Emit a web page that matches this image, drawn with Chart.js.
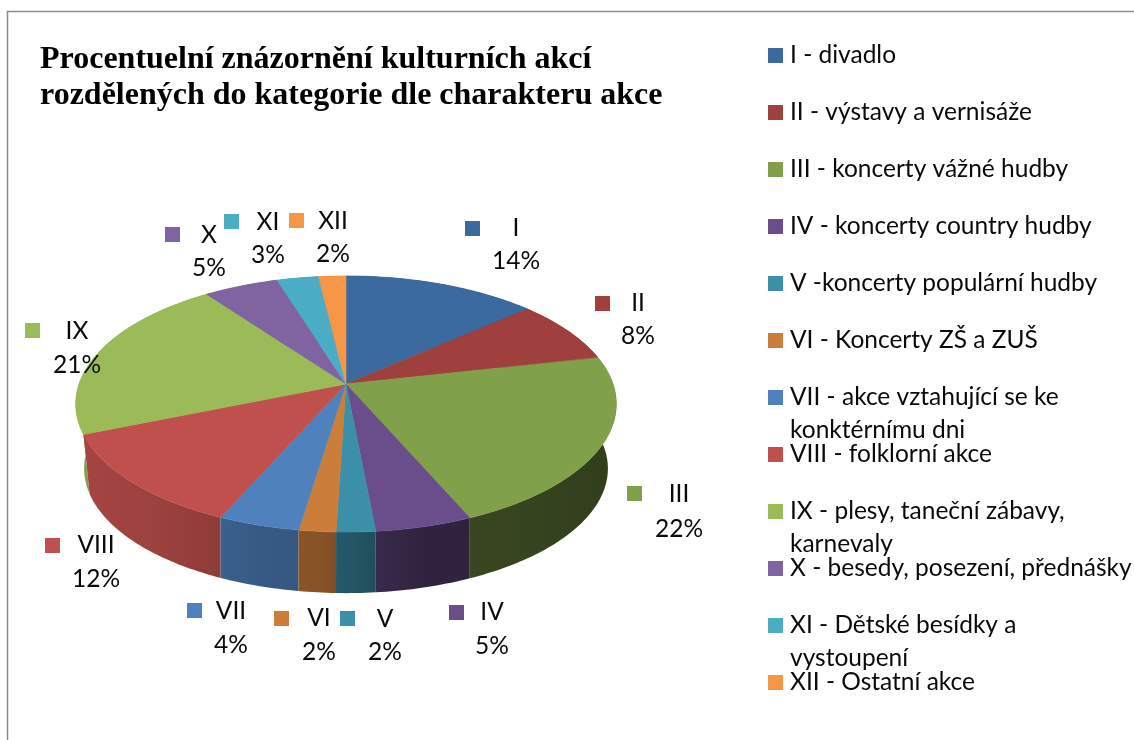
<!DOCTYPE html>
<html><head><meta charset="utf-8">
<style>html,body{margin:0;padding:0;background:#fff}canvas{display:block}</style>
<script src="https://cdn.jsdelivr.net/npm/chart.js@4/dist/chart.umd.min.js"></script>
</head><body><canvas id="c" width="1134" height="740"></canvas>
<script>
const titleLines = ["Procentuelní znázornění kulturních akcí","rozdělených do kategorie dle charakteru akce"];
const categories = ["I","II","III","IV","V","VI","VII","VIII","IX","X","XI","XII"];
const values = [13.5,8,22,5,2,1.9,4.2,12.2,21.2,5.2,2.9,1.9];
const legendLines = [["I - divadlo"],["II - výstavy a vernisáže"],["III - koncerty vážné hudby"],["IV - koncerty country hudby"],["V -koncerty populární hudby"],["VI - Koncerty ZŠ a ZUŠ"],["VII - akce vztahující se ke","konktérnímu dni"],["VIII - folklorní akce"],["IX - plesy, taneční zábavy,","karnevaly"],["X - besedy, posezení, přednášky"],["XI - Dětské besídky a","vystoupení"],["XII - Ostatní akce"]];
const colors = ["#3b6a9f","#a0403e","#81a04a","#6a4e8c","#3b8fa8","#cb7d3a","#4f81bd","#c0504d","#9bbb59","#8064a2","#4bacc6","#f79646"];
// label layout: swatch left, swatch top, text centre x, name centre y, percent centre y
const labelLayout = [[465,221,516,228,261],[595,296,638,303,336],[627,486,679,494,529],[449,605,492,612,646],[340,611,385,619,652],[274,611,319,618,652],[187,603,231,611,645],[45,538,96,545,579],[25,323,77,331,365],[165,227,209,235,268],[224,214,268,222,255],[289,213,333,221,254]];
const FONT = '24.5px Lato, Carlito, sans-serif';

function rgb(h){return [1,3,5].map(i=>parseInt(h.substr(i,2),16));}
const TOP={k:0.156,flat:0.468,s:1,dy:0}, LOW={k:0.19,flat:0.45,s:0.963,dy:60.8};
function proj(arc,theta,lower){
  const P=lower?LOW:TOP,u=Math.sin(theta), v=-Math.cos(theta), d=1-P.k*v, R=arc.outerRadius;
  return [arc.x+P.s*R*u/d, arc.y+P.dy+P.flat*R*v/d];
}
function rimPts(arc,lower){
  const a0=arc.startAngle+Math.PI/2,a1=arc.endAngle+Math.PI/2,n=Math.max(4,Math.ceil((a1-a0)*60)),p=[];
  for(let i=0;i<=n;i++)p.push(proj(arc,a0+(a1-a0)*i/n,lower));
  return p;
}
const shadeStops=[[76,.86],[150,.82],[260,.7],[320,.66],[360,.58],[420,.45],[540,.42],[620,.38]];
function wallFill(ctx,hex){
  const g=ctx.createLinearGradient(76,0,620,0),c=rgb(hex);
  shadeStops.forEach(([x,f])=>g.addColorStop((x-76)/544,`rgb(${c.map(v=>Math.round(v*f)).join(',')})`));
  return g;
}
const pie3d={id:'pie3d',
  beforeDraw(chart){
    const ctx=chart.ctx;ctx.save();
    ctx.fillStyle='#fff';ctx.fillRect(0,0,chart.width,chart.height);
    ctx.strokeStyle='#8c8c8c';ctx.lineWidth=1.5;
    ctx.beginPath();ctx.moveTo(7.5,740);ctx.lineTo(7.5,11.5);ctx.lineTo(1134,11.5);ctx.stroke();
    ctx.restore();
  },
  beforeDatasetsDraw(chart){
    const ctx=chart.ctx,arcs=chart.getDatasetMeta(0).data;
    ctx.save();
    const order=arcs.map((a,i)=>i).sort((i,j)=>{
      const m=x=>-Math.cos((arcs[x].startAngle+arcs[x].endAngle)/2+Math.PI/2);return m(i)-m(j);});
    order.forEach(i=>{
      const top=rimPts(arcs[i],false),low=rimPts(arcs[i],true).reverse();
      ctx.beginPath();top.concat(low).forEach((p,k)=>k?ctx.lineTo(p[0],p[1]):ctx.moveTo(p[0],p[1]));ctx.closePath();
      ctx.fillStyle=wallFill(ctx,colors[i]);ctx.fill();
    });
    arcs.forEach((arc,i)=>{
      ctx.beginPath();ctx.moveTo(arc.x,arc.y);
      rimPts(arc,false).forEach(p=>ctx.lineTo(p[0],p[1]));ctx.closePath();
      ctx.fillStyle=colors[i];ctx.strokeStyle=colors[i];ctx.lineWidth=.6;ctx.fill();ctx.stroke();
    });
    ctx.restore();
    return false;
  },
  afterDraw(chart){
    const ctx=chart.ctx;ctx.save();
    ctx.textBaseline='alphabetic';ctx.textAlign='left';ctx.fillStyle='#000';
    ctx.font='bold 32px "Liberation Serif", serif';
    titleLines.forEach((t,i)=>ctx.fillText(t,40,68+35.5*i));
    ctx.textBaseline='middle';
    ctx.font=FONT;
    categories.forEach((name,i)=>{
      const [sx,sy,cx,ny,py]=labelLayout[i];
      ctx.fillStyle=colors[i];ctx.fillRect(sx,sy,15,15);
      ctx.fillStyle='#0a0a0a';ctx.textAlign='center';
      ctx.fillText(name,cx,ny);
      ctx.fillText(Math.round(values[i])+'%',cx,py);
    });
    ctx.textAlign='left';
    legendLines.forEach((lines,i)=>{
      const y=48+57*i;
      ctx.fillStyle=colors[i];ctx.fillRect(768,y,15,15);
      ctx.fillStyle='#0a0a0a';
      lines.forEach((t,j)=>ctx.fillText(t,790,y+7.5+33*j));
    });
    ctx.restore();
  }
};
new Chart(document.getElementById('c'),{
  type:'pie',
  data:{labels:categories,datasets:[{data:values,backgroundColor:colors,borderWidth:0}]},
  options:{responsive:false,animation:false,
    layout:{padding:{left:79,right:521,top:117,bottom:89}},
    plugins:{legend:{display:false},title:{display:false},tooltip:{enabled:false}}},
  plugins:[pie3d]
});
</script></body></html>
